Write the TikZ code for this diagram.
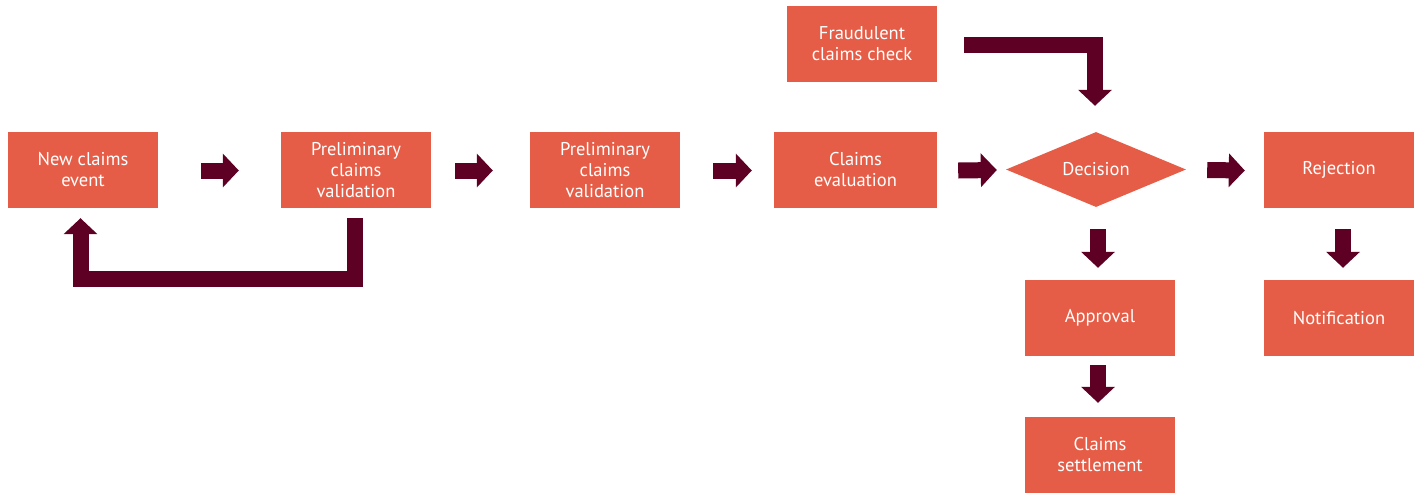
\documentclass[tikz,border=0pt]{standalone}
\usepackage{fontspec}
\setmainfont{PT Sans}
\usetikzlibrary{arrows.meta,shapes.geometric,calc}
\definecolor{boxc}{HTML}{E65D47}
\definecolor{arrc}{HTML}{5E0024}
\tikzset{
  box/.style={rectangle, fill=boxc, text=white, align=center, inner sep=0pt,
    minimum width=150pt, minimum height=76pt, font=\fontsize{18.5}{21}\selectfont},
  dia/.style={diamond, shape aspect=2.4, fill=boxc, text=white, inner sep=0pt,
    minimum width=180pt, minimum height=75pt, font=\fontsize{18.5}{21}\selectfont},
  blk/.style={draw=arrc, line width=16pt, miter limit=10,
    -{Triangle[width=33pt,length=16pt]}},
}
\begin{document}
\begin{tikzpicture}[x=1pt,y=-1pt]
\useasboundingbox (0,0) rectangle (1423,493);
\node[box] (ne) at (83,170) {New claims\\event};
\node[box] (pv1) at (356,170) {Preliminary\\claims\\validation};
\node[box] (pv2) at (605,170) {Preliminary\\claims\\validation};
\node[box, minimum width=163pt] (ce) at (855.5,170) {Claims\\evaluation};
\node[box] (fc) at (862,44) {Fraudulent\\claims check};
\node[dia] (dec) at (1096,169.5) {Decision};
\node[box] (rej) at (1339,170) {Rejection};
\node[box] (app) at (1100,318) {Approval};
\node[box] (notif) at (1339,318) {Notification};
\node[box] (set) at (1100,455) {Claims\\settlement};
% horizontal arrows
\draw[blk] ($(ne.east)+(43,0.5)$) -- ($(pv1.west)+(-42,0.5)$);
\draw[blk] ($(pv1.east)+(24,0.5)$) -- ($(pv2.west)+(-37,0.5)$);
\draw[blk] ($(pv2.east)+(33,0.5)$) -- ($(ce.west)+(-22,0.5)$);
\draw[blk] ($(ce.east)+(21,0.5)$) -- ($(dec.west)+(-9,0.5)$);
\draw[blk] ($(dec.east)+(21,0.5)$) -- ($(rej.west)+(-19,0.5)$);
% vertical arrows
\draw[blk] ($(dec.south)+(2,22)$) -- ($(app.north)+(-2,-12)$);
\draw[blk] ($(app.south)+(-2,9)$) -- ($(set.north)+(-2,-14)$);
\draw[blk] ($(rej.south)+(4,21)$) -- ($(notif.north)+(4,-12)$);
% fraud check arrow
\draw[blk] ($(fc.east)+(27,1)$) -| ($(dec.north)+(-1,-26)$);
% feedback arrow
\draw[blk] ($(pv1.south)+(-1.5,10)$) -- ++(0,61) -| ($(ne.south)+(-2.5,10)$);
\end{tikzpicture}
\end{document}
